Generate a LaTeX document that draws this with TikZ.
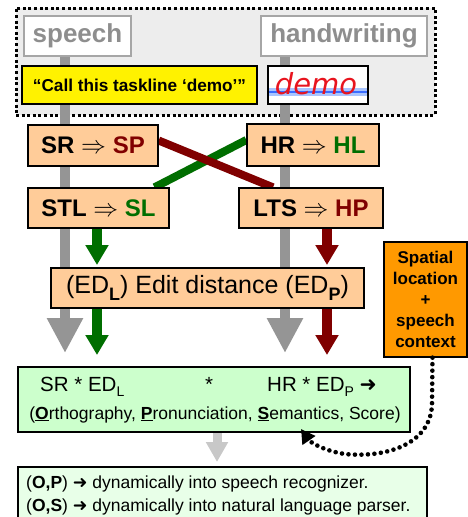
\documentclass[tikz,border=0pt]{standalone}
\usepackage{fontspec}
\setmainfont{Liberation Sans}
\newfontfamily\symfont{DejaVu Sans}
\newfontfamily\handfont{DejaVu Sans}
\usetikzlibrary{arrows.meta,calc}
\definecolor{peach}{HTML}{FFCC99}
\definecolor{darkred}{HTML}{800000}
\definecolor{dgreen}{HTML}{006E00}
\definecolor{framegray}{HTML}{EDEDED}
\definecolor{textgray}{HTML}{8E8E8E}
\definecolor{bordergray}{HTML}{A6A6A6}
\definecolor{linegray}{HTML}{959595}
\definecolor{lightarrow}{HTML}{C8C8C8}
\definecolor{orangebox}{HTML}{FF9900}
\definecolor{greenbox}{HTML}{CCFFCC}
\definecolor{palegreen}{HTML}{E8FFE8}
\definecolor{stripeblue}{HTML}{A8C4FF}
\definecolor{lineblue}{HTML}{3A6CFF}
\definecolor{hwred}{HTML}{E8141E}
\pgfdeclarelayer{bg}
\pgfdeclarelayer{mid}
\pgfsetlayers{bg,mid,main}
\newcommand{\subL}[2]{\raisebox{-0.25em}{\fontsize{#1}{#1}\selectfont #2}}
\newcommand{\heavyarrow}{{\symfont\bfseries ➜}}
\begin{document}
\begin{tikzpicture}[x=1pt,y=-1pt,
  box/.style={draw=black, line width=1.3pt, inner sep=0pt, align=center, text=black},
  peachbox/.style={box, fill=peach, font=\fontsize{24}{28}\selectfont\bfseries},
  srcbox/.style={draw=bordergray, line width=1.8pt, fill=white, inner sep=0pt, text=textgray, font=\fontsize{26}{30}\selectfont\bfseries},
  grayarrow/.style={draw=linegray, line width=10pt, -{Triangle[width=34pt,length=35pt]}},
  colarrow/.style={line width=10pt, -{Triangle[width=22pt,length=20pt]}},
  crossline/.style={line width=8pt},
  txt/.style={inner sep=0pt, text=black}
]
\clip (0,0) rectangle (468,517);

% background and frame
\begin{pgfonlayer}{bg}
\fill[white] (0,0) rectangle (468,517);
\node[draw=black, fill=framegray, line width=3pt, dash pattern=on 3pt off 2.6pt,
      inner sep=0pt, minimum width=419pt, minimum height=107pt] (frame) at (225.5,61.5) {};
\end{pgfonlayer}

% source boxes
\node[srcbox, minimum width=107pt, minimum height=40pt] (speech) at (77.5,36) {speech};
\node[srcbox, minimum width=166pt, minimum height=40pt] (hand) at (344,36) {handwriting};
\node[box, fill=yellow, minimum width=235pt, minimum height=38pt,
      font=\fontsize{17.2}{20}\selectfont\bfseries] (yellow) at (139.5,85) {“Call this taskline ‘demo’”};
\node[box, fill=white, minimum width=100pt, minimum height=38pt] (demo) at (318,85) {};
\fill[stripeblue] (269,88) rectangle (367,95.5);
\draw[lineblue, line width=2.6pt] (269,91.8) -- (367,91.8);
\node[inner sep=0pt, text=hwred, anchor=base, font=\handfont\itshape\fontsize{29}{29}\selectfont] (demotext) at (316,94) {demo};

% peach boxes
\node[peachbox, minimum width=130pt, minimum height=41pt] (sr) at (93,145.5) {SR $\Rightarrow$ \textcolor{darkred}{SP}};
\node[peachbox, minimum width=132pt, minimum height=42pt] (hr) at (313,145) {HR $\Rightarrow$ \textcolor{dgreen}{HL}};
\node[peachbox, minimum width=141pt, minimum height=40pt] (stl) at (98.5,208) {STL $\Rightarrow$ \textcolor{dgreen}{SL}};
\node[peachbox, minimum width=144pt, minimum height=40pt] (lts) at (311,208) {LTS $\Rightarrow$ \textcolor{darkred}{HP}};
\node[box, fill=peach, minimum width=313pt, minimum height=40pt, font=\fontsize{25}{28}\selectfont] (ed) at (207.5,288)
  {(ED\subL{18}{\bfseries L}) Edit distance (ED\subL{18}{\bfseries P})};

% orange box
\node[box, fill=orangebox, minimum width=83pt, minimum height=115pt,
      font=\fontsize{17}{21}\selectfont\bfseries] (orange) at (425.5,299.5) {Spatial\\location\\+\\speech\\context};

% green box
\node[box, fill=greenbox, minimum width=392pt, minimum height=65pt] (green) at (214,399.5) {};
\node[txt, anchor=base west, font=\fontsize{20.5}{22}\selectfont] (g1) at (40,391) {SR * ED\subL{14}{L}};
\node[txt, anchor=base, font=\fontsize{20.5}{22}\selectfont] (g2) at (209,391) {*};
\node[txt, anchor=base west, font=\fontsize{20.5}{22}\selectfont] (g3) at (267,391) {HR * ED\subL{14}{P} \heavyarrow};
\node[txt, anchor=base, font=\fontsize{17.5}{20}\selectfont] (g4) at (215,419)
  {(\underline{\textbf{O}}rthography, \underline{\textbf{P}}ronunciation, \underline{\textbf{S}}emantics, Score)};

% bottom box
\node[box, fill=palegreen, minimum width=409pt, minimum height=80pt] (bottom) at (222.5,507) {};
\node[txt, anchor=west, align=left, font=\fontsize{17.5}{23}\selectfont] (btext) at (26,495)
  {(\textbf{O,P}) \heavyarrow{} dynamically into speech recognizer.\\
   (\textbf{O,S}) \heavyarrow{} dynamically into natural language parser.};

% coordinates for lines
\coordinate (sx) at (65,0);
\coordinate (hx) at (285,0);
\coordinate (gx) at (97,0);
\coordinate (rx) at (327,0);
\coordinate (lx) at (217,0);
\coordinate (stip) at (65,353);
\coordinate (htip) at (285,353);
\coordinate (gtip1) at (97,265);
\coordinate (rtip1) at (327,265);
\coordinate (gtip2) at (97,355);
\coordinate (rtip2) at (327,355);
\coordinate (ltip) at (217,462);
\coordinate (dtip) at (301,429);

\begin{pgfonlayer}{mid}
\draw[grayarrow] (sx |- speech.south) -- (stip);
\draw[grayarrow] (hx |- hand.south) -- (htip);
\draw[crossline, dgreen] ($(hr.west)+(0,-5)$) -- ($(stl.north)+(56,0)$);
\draw[crossline, darkred] ($(sr.east)+(0,-5)$) -- ($(lts.north)+(-38,0)$);
\draw[colarrow, dgreen] (gx |- stl.south) -- (gtip1);
\draw[colarrow, darkred] (rx |- lts.south) -- (rtip1);
\draw[colarrow, dgreen] (gx |- ed.south) -- (gtip2);
\draw[colarrow, darkred] (rx |- ed.south) -- (rtip2);
\draw[lightarrow, line width=9pt, -{Triangle[width=21pt,length=20pt]}] (lx |- green.south) -- (ltip);
\end{pgfonlayer}

% dotted connector
\draw[line width=4.6pt, dash pattern=on 0pt off 6.5pt, line cap=round, -{Triangle[width=15pt,length=14pt]}]
  ($(orange.south)+(7,0)$) -- (432,405) .. controls (430,445) and (385,458) .. (345,454)
  .. controls (324,451) and (310,442) .. (dtip);
\end{tikzpicture}
\end{document}
